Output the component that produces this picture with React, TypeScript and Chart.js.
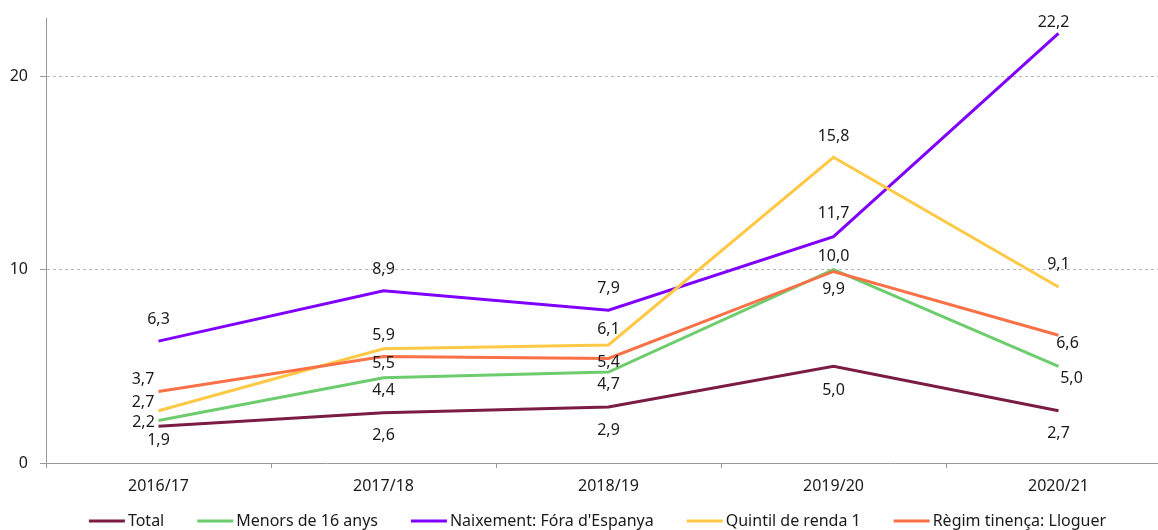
import React, { useEffect, useRef } from "react";
import { Chart, registerables } from "chart.js";

Chart.register(...registerables);

const categories = ["2016/17", "2017/18", "2018/19", "2019/20", "2020/21"];
const seriesNames = [
  "Total",
  "Menors de 16 anys",
  "Naixement: Fóra d'Espanya",
  "Quintil de renda 1",
  "Règim tinença: Lloguer",
];
const totalValues = [1.9, 2.6, 2.9, 5.0, 2.7];
const menorsValues = [2.2, 4.4, 4.7, 10.0, 5.0];
const naixementValues = [6.3, 8.9, 7.9, 11.7, 22.2];
const quintilValues = [2.7, 5.9, 6.1, 15.8, 9.1];
const regimValues = [3.7, 5.5, 5.4, 9.9, 6.6];
const yTicks = [0, 10, 20];

const colors = ["#7b1c44", "#6dcc6d", "#8000ff", "#ffc845", "#fa7147"];

// label offsets (dx, dy) relative to each point — style config
const labelOffsets: [number, number][][] = [
  [[0, 14], [0, 23], [0, 24], [0, 24], [0, 23]],
  [[-15, 2], [0, 12.5], [0, 12], [0, -13], [13, 12]],
  [[0, -22], [0, -21], [0, -22], [0, -23], [-5, -11]],
  [[-15.5, -8], [0, -13.5], [0, -16], [0, -20.5], [0, -22.5]],
  [[-15.5, -12], [0, 7], [0, 4], [0, 18], [9, 8]],
];

const FONT = '"Noto Sans", sans-serif';

const dataLabelPlugin = {
  id: "dataLabels",
  afterDatasetsDraw(chart: any) {
    const ctx = chart.ctx;
    ctx.save();
    ctx.font = `16px ${FONT}`;
    ctx.fillStyle = "#1a1a1a";
    ctx.textAlign = "center";
    ctx.textBaseline = "middle";
    chart.data.datasets.forEach((ds: any, i: number) => {
      const meta = chart.getDatasetMeta(i);
      meta.data.forEach((el: any, j: number) => {
        const v = ds.data[j] as number;
        const [dx, dy] = labelOffsets[i][j];
        ctx.fillText(v.toFixed(1).replace(".", ","), el.x + dx, el.y + dy);
      });
    });
    ctx.restore();
  },
};

const legendPlugin = {
  id: "customLegend",
  afterDraw(chart: any) {
    const ctx = chart.ctx;
    ctx.save();
    ctx.font = `16px ${FONT}`;
    ctx.textBaseline = "middle";
    ctx.textAlign = "left";
    const lineLen = 36;
    const gap = 3;
    const itemGap = 33;
    const widths = seriesNames.map((n) => lineLen + gap + ctx.measureText(n).width);
    const total = widths.reduce((a, b) => a + b, 0) + itemGap * (widths.length - 1);
    let x = 597.5 - total / 2;
    const y = 521;
    seriesNames.forEach((n, i) => {
      ctx.strokeStyle = colors[i];
      ctx.lineWidth = 3;
      ctx.beginPath();
      ctx.moveTo(x, y);
      ctx.lineTo(x + lineLen, y);
      ctx.stroke();
      ctx.fillStyle = "#1a1a1a";
      ctx.fillText(n, x + lineLen + gap, y);
      x += widths[i] + itemGap;
    });
    ctx.restore();
  },
};

export default function App() {
  const ref = useRef<HTMLCanvasElement>(null);
  useEffect(() => {
    if (!ref.current) return;
    const allValues = [totalValues, menorsValues, naixementValues, quintilValues, regimValues];
    const chart = new Chart(ref.current, {
      type: "line",
      data: {
        labels: categories,
        datasets: allValues.map((vals, i) => ({
          label: seriesNames[i],
          data: vals,
          borderColor: colors[i],
          backgroundColor: colors[i],
          borderWidth: 3,
          pointRadius: 0,
          tension: 0,
          order: 5 - i,
        })),
      },
      options: {
        responsive: false,
        animation: false,
        layout: { padding: { top: 18, right: 0, left: 0, bottom: 0 } },
        plugins: {
          legend: { display: false },
          tooltip: { enabled: false },
        },
        scales: {
          x: {
            offset: true,
            grid: {
              display: true,
              drawOnChartArea: false,
              drawTicks: true,
              tickLength: 5,
              offset: true,
              color: "#999999",
            },
            border: { display: true, color: "#999999", width: 1 },
            ticks: {
              color: "#1a1a1a",
              font: { family: FONT, size: 16 },
              padding: 9,
              maxRotation: 0,
            },
            afterFit(scale: any) {
              scale.height = 67;
            },
          },
          y: {
            min: 0,
            max: 23,
            afterBuildTicks(scale: any) {
              scale.ticks = yTicks.map((v) => ({ value: v }));
            },
            grid: {
              color: (c: any) => (c.tick && c.tick.value === 0 ? "rgba(0,0,0,0)" : "#b5b5b5"),
              tickColor: "#999999",
              tickLength: 6,
              lineWidth: 1,
            },
            border: { display: true, color: "#999999", width: 1, dash: [3, 3] },
            ticks: {
              color: "#1a1a1a",
              font: { family: FONT, size: 16 },
              padding: 12,
              includeBounds: false,
              callback: (v: any) => String(v),
            },
            afterFit(scale: any) {
              scale.width = 46;
              scale.paddingTop = 0;
              scale.paddingBottom = 0;
            },
          },
        },
      },
      plugins: [dataLabelPlugin, legendPlugin],
    });
    return () => chart.destroy();
  }, []);
  return (
    <div
      style={{
        position: "absolute",
        left: 0,
        top: 0,
        width: 1158,
        height: 530,
        overflow: "hidden",
        background: "#ffffff",
      }}
    >
      <canvas ref={ref} width={1171} height={530} style={{ display: "block" }} />
    </div>
  );
}
